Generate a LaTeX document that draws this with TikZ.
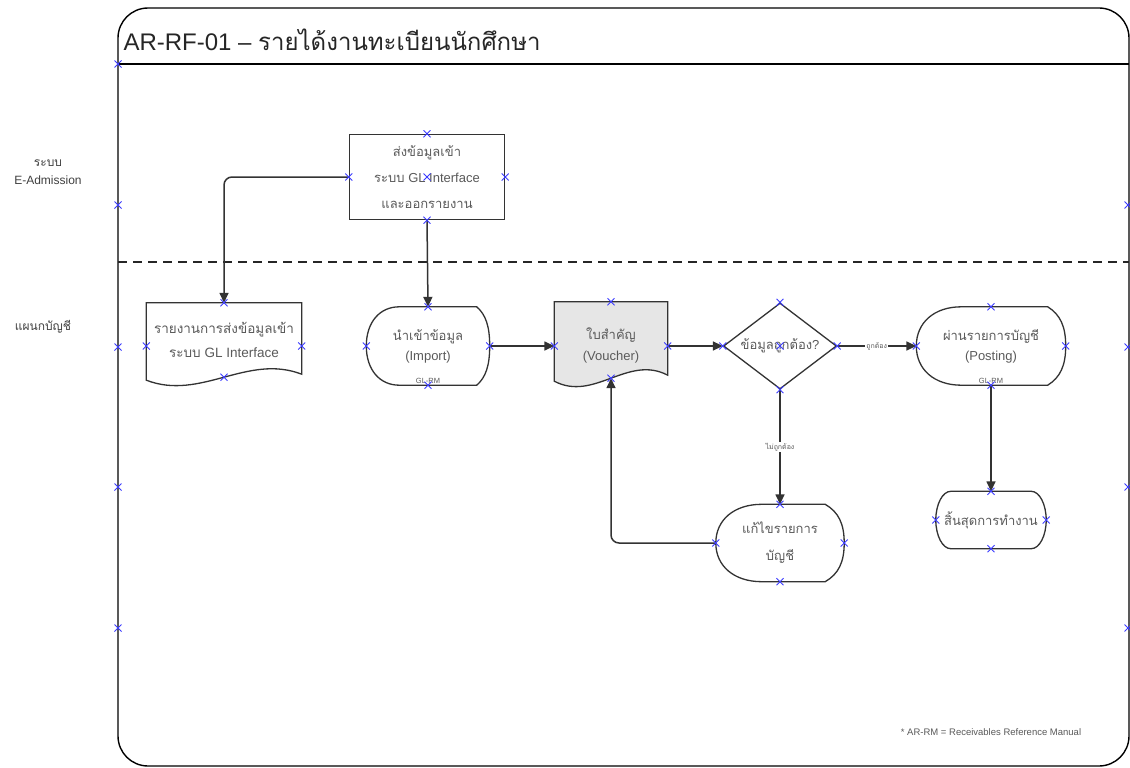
\documentclass[tikz,border=0pt]{standalone}
\usepackage{fontspec}
\setmainfont{Liberation Sans}
\newfontfamily\thaifont[Script=Thai]{Loma}
\usetikzlibrary{arrows.meta,shapes.geometric,calc}
\pgfdeclarelayer{background}
\pgfsetlayers{background,main}

\definecolor{inkline}{HTML}{333333}
\definecolor{inktext}{HTML}{5A5A5A}
\definecolor{vouchergray}{HTML}{E6E6E6}
\definecolor{cpblue}{HTML}{3C3CFF}

\newcommand{\tha}[1]{{\thaifont #1}}

% display shape: node, left bulge, right bulge
\newcommand{\displaybody}[3]{%
  \draw[shapeline] let \p1=(#1.north west), \p2=(#1.south east), \n1={\y1-\y2} in
    ({\x1+#2},\y1) -- ({\x2-#3},\y1)
    .. controls ({\x2-0.3*#3},{\y1-0.1*\n1}) and (\x2,{\y1-0.25*\n1}) .. (\x2,{\y1-0.5*\n1})
    .. controls (\x2,{\y2+0.25*\n1}) and ({\x2-0.3*#3},{\y2+0.1*\n1}) .. ({\x2-#3},\y2)
    -- ({\x1+#2},\y2)
    .. controls ({\x1+0.4*#2},\y2) and (\x1,{\y2+0.2*\n1}) .. (\x1,{\y1-0.5*\n1})
    .. controls (\x1,{\y1-0.2*\n1}) and ({\x1+0.4*#2},\y1) .. cycle;}
% document shape, wave centred on the south anchor
\newcommand{\docbody}[2][]{%
  \draw[shapeline,#1] let \p1=(#2.north west), \p2=(#2.south east), \n1={\x2-\x1} in
    (\x1,\y1) -- (\x2,\y1) -- (\x2,{\y2+3pt})
    .. controls ({\x1+0.65*\n1},{\y2+24pt}) and ({\x1+0.35*\n1},{\y2-24pt}) .. (\x1,{\y2-3pt}) -- cycle;}
% terminator
\newcommand{\termbody}[2]{%
  \draw[shapeline] let \p1=(#1.north west), \p2=(#1.south east), \n1={0.5*(\y1-\y2)} in
    ({\x1+#2},\y1) -- ({\x2-#2},\y1)
    .. controls ({\x2-0.45*#2},\y1) and (\x2,{\y1-0.45*\n1}) .. (\x2,{\y1-\n1})
    .. controls (\x2,{\y2+0.45*\n1}) and ({\x2-0.45*#2},\y2) .. ({\x2-#2},\y2)
    -- ({\x1+#2},\y2)
    .. controls ({\x1+0.45*#2},\y2) and (\x1,{\y2+0.45*\n1}) .. (\x1,{\y1-\n1})
    .. controls (\x1,{\y1-0.45*\n1}) and ({\x1+0.45*#2},\y1) .. cycle;}

\begin{document}
\begin{tikzpicture}[x=1pt,y=-1pt,
  frameline/.style={draw=black,line width=1.4pt},
  laneline/.style={draw=black!85,line width=1.4pt,dash pattern=on 9pt off 6pt},
  shapeline/.style={draw=inkline,line width=1.3pt},
  shapetext/.style={text=inktext,align=center,font=\fontsize{13}{20}\selectfont},
  flownode/.style={shapetext,inner sep=0pt},
  procbox/.style={flownode,draw=inkline,line width=1.3pt,fill=white},
  decide/.style={diamond,draw=inkline,line width=1.3pt,fill=white,inner sep=0pt,
    minimum width=113pt,minimum height=86pt},
  sublabel/.style={text=inktext,font=\fontsize{7.5}{8}\selectfont,inner sep=1pt},
  edgetext/.style={text=inktext,font=\fontsize{7}{8}\selectfont,fill=white,inner sep=1pt},
  lanetext/.style={text=black!75,align=center,font=\fontsize{12}{18}\selectfont},
  flow/.style={draw=inkline,line width=1.5pt,-{Triangle[length=10pt,width=9pt]}},
  cpmark/.pic={\draw[cpblue,line width=0.9pt] (-3.5,-3.5) -- (3.5,3.5) (-3.5,3.5) -- (3.5,-3.5);}]

\useasboundingbox (0,0) rectangle (1130,768);

% pool and lanes
\draw[frameline,rounded corners=30pt] (118,8) rectangle (1129,766);
\draw[frameline] (118,64) -- (1129,64);
\draw[laneline] (118,262) -- (1129,262);
\node[anchor=west,text=black!85,font=\fontsize{24}{28}\selectfont] (title) at (120,40)
  {AR-RF-01 – \tha{รายได้งานทะเบียนนักศึกษา}};
\node[lanetext] (lanea) at (48,172) {\tha{ระบบ}\\E-Admission};
\node[lanetext] (laneb) at (43,327) {\tha{แผนกบัญชี}};

% steps
\node[procbox,minimum width=155pt,minimum height=85pt,font=\fontsize{13}{26}\selectfont]
  (send) at (427,177) {\tha{ส่งข้อมูลเข้า}\\\tha{ระบบ} GL Interface\\\tha{และออกรายงาน}};
\node[flownode,minimum width=155pt,minimum height=74pt,
  label={[shapetext,font=\fontsize{13.5}{24}\selectfont]center:\tha{รายงานการส่งข้อมูลเข้า}\\\tha{ระบบ} GL Interface}]
  (rep) at (224,340) {};
\node[flownode,minimum width=123pt,minimum height=78pt,
  label={[sublabel,anchor=south]south:GL-RM}]
  (imp) at (428,346) {\tha{นำเข้าข้อมูล}\\(Import)};
\node[flownode,minimum width=113pt,minimum height=76pt,
  label={[shapetext,font=\fontsize{13}{21}\selectfont,yshift=-6pt]center:\tha{ใบสำคัญ}\\(Voucher)}]
  (vou) at (611,340) {};
\node[decide,label={[shapetext]center:\tha{ข้อมูลถูกต้อง}?}] (dia) at (780,346) {};
\node[flownode,minimum width=149pt,minimum height=78pt,
  label={[sublabel,anchor=south]south:GL-RM}]
  (pos) at (991,346) {\tha{ผ่านรายการบัญชี}\\(Posting)};
\node[flownode,minimum width=128pt,minimum height=77pt,font=\fontsize{13}{27}\selectfont]
  (fix) at (780,543) {\tha{แก้ไขรายการ}\\\tha{บัญชี}};
\node[flownode,minimum width=110pt,minimum height=57pt] (stop) at (991,520) {\tha{สิ้นสุดการทำงาน}};

\node[text=inktext,font=\fontsize{9.5}{11}\selectfont] (note) at (991,732)
  {* AR-RM = Receivables Reference Manual};

\begin{pgfonlayer}{background}
  \fill[white] (0,0) rectangle (1130,768);
  \docbody{rep}
  \docbody[fill=vouchergray]{vou}
  \displaybody{imp}{33pt}{13pt}
  \displaybody{pos}{45pt}{18pt}
  \displaybody{fix}{46pt}{19pt}
  \termbody{stop}{15pt}
\end{pgfonlayer}

% connectors
\draw[flow,rounded corners=8pt] (send.west) -| (rep.north);
\draw[flow] (send.south) -- (imp.north);
\draw[flow] (imp.east) -- (imp.east -| vou.west);
\draw[flow] (vou.east |- dia.west) -- (dia.west);
\draw[flow] (dia.east) -- node[edgetext] {\tha{ถูกต้อง}} (pos.west);
\draw[flow] (dia.south) -- node[edgetext] {\tha{ไม่ถูกต้อง}} (fix.north);
\draw[flow,rounded corners=8pt] (fix.west) -| (vou.south);
\draw[flow] (pos.south) -- (stop.north);

% connection points
\foreach \nd in {send,imp,dia,pos,fix,stop}
  \foreach \an in {north,south,east,west}
    \pic at (\nd.\an) {cpmark};
\foreach \nd in {rep,vou}
  {\pic at (\nd.north) {cpmark};
   \pic at (\nd.south) {cpmark};
   \pic at ([yshift=-6pt]\nd.west) {cpmark};
   \pic at ([yshift=-6pt]\nd.east) {cpmark};}
\pic at (send.center) {cpmark};
\pic at (dia.center) {cpmark};
\pic at (118,64) {cpmark};
\foreach \yy in {205,347,487,628}
  {\pic at (118,\yy) {cpmark};
   \pic at (1128,\yy) {cpmark};}
\end{tikzpicture}
\end{document}
